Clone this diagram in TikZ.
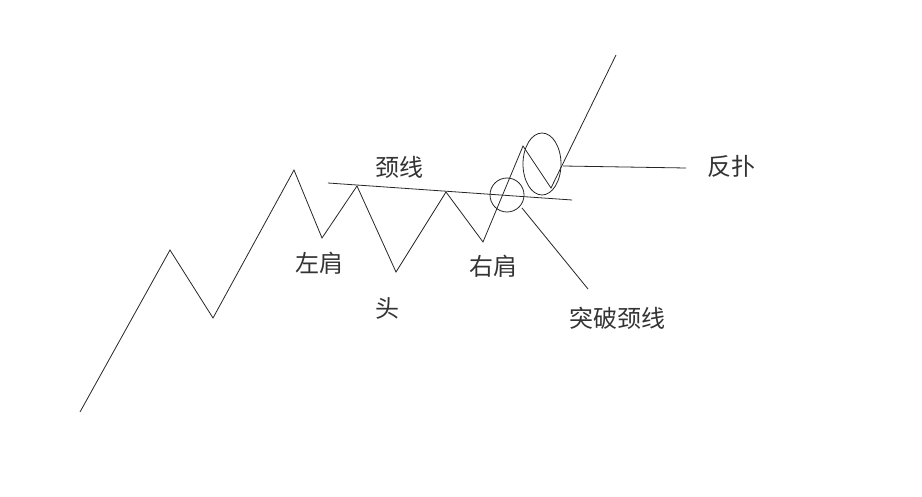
\documentclass[tikz,border=0pt]{standalone}
\usepackage{fontspec}
\usetikzlibrary{shapes.geometric}
\newfontfamily\cjk{Noto Sans CJK SC}
\begin{document}
\begin{tikzpicture}[x=1pt,y=-1pt,
  pline/.style={draw=black!85,line width=0.8pt,line join=miter},
  lbl/.style={font=\cjk\fontsize{24}{26}\selectfont,text=black!80,inner sep=0pt}]
\useasboundingbox (0,0) rectangle (922,497);
% price path points
\coordinate (p0) at (80,412);
\coordinate (p1) at (170,250);
\coordinate (p2) at (213,318);
\coordinate (p3) at (294,170);
\coordinate (p4) at (322,238);
\coordinate (p5) at (357,186);
\coordinate (p6) at (396,272);
\coordinate (p7) at (446,192);
\coordinate (p8) at (483,242);
\coordinate (p9) at (523,146);
\coordinate (p10) at (551,188);
\coordinate (p11) at (616,55);
\draw[pline] (p0)--(p1)--(p2)--(p3)--(p4)--(p5)--(p6)--(p7)--(p8)--(p9)--(p10)--(p11);
% neckline
\coordinate (n0) at (328,183);
\coordinate (n1) at (572,200);
\draw[pline] (n0)--(n1);
% breakout circle and pullback ellipse
\node[draw=black!85,line width=0.8pt,circle,minimum size=34pt,inner sep=0pt] (brk) at (507,195) {};
\node[draw=black!85,line width=0.8pt,ellipse,minimum width=38pt,minimum height=62pt,inner sep=0pt] (pb) at (542,164) {};
% labels
\node[lbl] (neck) at (399,167) {颈线};
\node[lbl] (ls) at (319,263) {左肩};
\node[lbl] (head) at (387,308) {头};
\node[lbl] (rs) at (493,266) {右肩};
\node[lbl] (tp) at (617,318) {突破颈线};
\node[lbl] (fp) at (731,166) {反扑};
% pointer lines
\coordinate (c1) at (522,208);
\coordinate (c1e) at (588,289);
\draw[pline] (c1)--(c1e);
\coordinate (c2) at (563,166);
\coordinate (c2e) at (686,168);
\draw[pline] (c2)--(c2e);
\end{tikzpicture}
\end{document}
